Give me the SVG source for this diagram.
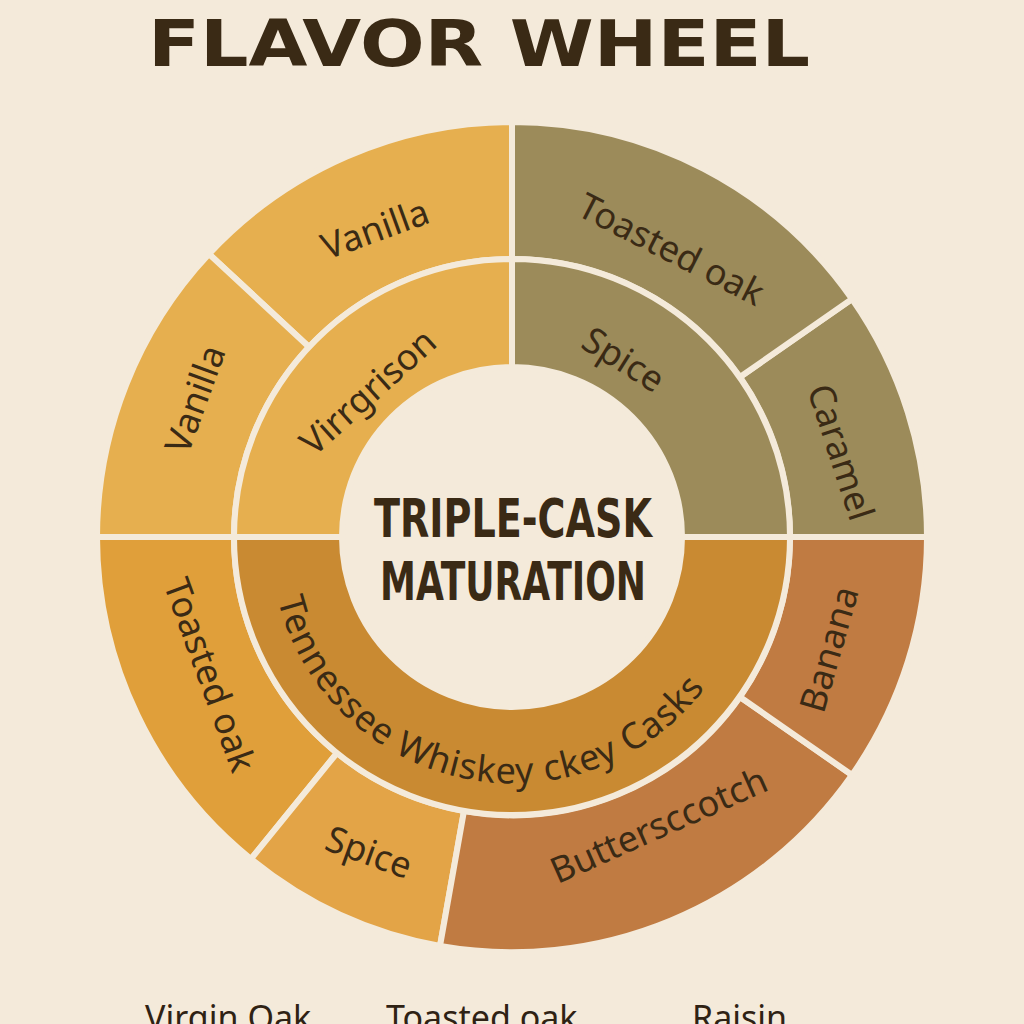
<svg xmlns="http://www.w3.org/2000/svg" width="1024" height="1024" viewBox="0 0 1024 1024">
<style>
.seg{stroke:#F4EADA;stroke-width:6;stroke-linejoin:miter}
.lb{font-family:"Noto Sans","DejaVu Sans",sans-serif;font-size:36px;fill:#3A2A15;text-anchor:middle;dominant-baseline:middle}
.ct{font-family:"DejaVu Sans Condensed","DejaVu Sans",sans-serif;font-weight:bold;font-size:54px;fill:#3A2A15}
.bt{font-family:"Noto Sans","DejaVu Sans",sans-serif;font-size:34px;fill:#2F2214}
</style>
<defs><path id="arc" d="M276,592 A242,242 0 0 0 752,577"/></defs>
<rect width="1024" height="1024" fill="#F4EADA"/>
<text x="148" y="66" textLength="662" lengthAdjust="spacingAndGlyphs" font-family="DejaVu Sans,sans-serif" font-weight="bold" font-size="64" fill="#3A2A15">FLAVOR WHEEL</text>
<g id="outer">
<path class="seg" fill="#9C8B5A" d="M927,537 A415,415 0 0 0 852,299 L740,377 A278,278 0 0 1 790,537Z"/>
<path class="seg" fill="#9C8B5A" d="M852,299 A415,415 0 0 0 512,122 L512,259 A278,278 0 0 1 740,377Z"/>
<path class="seg" fill="#E6AF4F" d="M512,122 A415,415 0 0 0 209,254 L309,347 A278,278 0 0 1 512,259Z"/>
<path class="seg" fill="#E6AF4F" d="M209,254 A415,415 0 0 0 97,537 L234,537 A278,278 0 0 1 309,347Z"/>
<path class="seg" fill="#E09F3A" d="M97,537 A415,415 0 0 0 251,859 L337,753 A278,278 0 0 1 234,537Z"/>
<path class="seg" fill="#E3A447" d="M251,859 A415,415 0 0 0 440,946 L464,811 A278,278 0 0 1 337,753Z"/>
<path class="seg" fill="#C07B42" d="M440,946 A415,415 0 0 0 852,775 L740,697 A278,278 0 0 1 464,811Z"/>
<path class="seg" fill="#C07B42" d="M852,775 A415,415 0 0 0 927,537 L790,537 A278,278 0 0 1 740,697Z"/>
</g>
<g id="inner">
<path class="seg" fill="#E6AF4F" d="M512,259 A278,278 0 0 0 234,537 L342,537 A170,170 0 0 1 512,367Z"/>
<path class="seg" fill="#9C8B5A" d="M790,537 A278,278 0 0 0 512,259 L512,367 A170,170 0 0 1 682,537Z"/>
<path class="seg" fill="#C98A32" d="M234,537 A278,278 0 0 0 790,537 L682,537 A170,170 0 0 1 342,537Z"/>
<circle cx="512" cy="537" r="167" fill="#F4EADA"/>
</g>
<g id="labels">
<text class="lb" transform="translate(376,232) rotate(-20)">Vanilla</text>
<text class="lb" transform="translate(198,400) rotate(-70)">Vanilla</text>
<text class="lb" transform="translate(670,252) rotate(27)">Toasted oak</text>
<text class="lb" transform="translate(838,453) rotate(72)">Caramel</text>
<text class="lb" transform="translate(622,362) rotate(32)">Spice</text>
<text class="lb" transform="translate(370,394) rotate(-42)">Virrgrison</text>
<text class="lb" transform="translate(207,676) rotate(70)">Toasted oak</text>
<text class="lb" transform="translate(368,855) rotate(20)">Spice</text>
<text class="lb" transform="translate(660,828) rotate(-24)">Buttersccotch</text>
<text class="lb" transform="translate(832,650) rotate(-74)">Banana</text>
<text font-family="Noto Sans,DejaVu Sans,sans-serif" font-size="36" letter-spacing="1" fill="#3A2A15"><textPath href="#arc" startOffset="8">Tennessee Whiskey ckey Casks</textPath></text>
</g>
<g id="center">
<text class="ct" x="374" y="537" textLength="278" lengthAdjust="spacingAndGlyphs">TRIPLE-CASK</text>
<text class="ct" x="380" y="600" textLength="266" lengthAdjust="spacingAndGlyphs">MATURATION</text>
</g>
<g id="bottom">
<text class="bt" x="145" y="1030">Virgin Oak</text>
<text class="bt" x="386" y="1030">Toasted oak</text>
<text class="bt" x="692" y="1030">Raisin</text>
</g>
</svg>
